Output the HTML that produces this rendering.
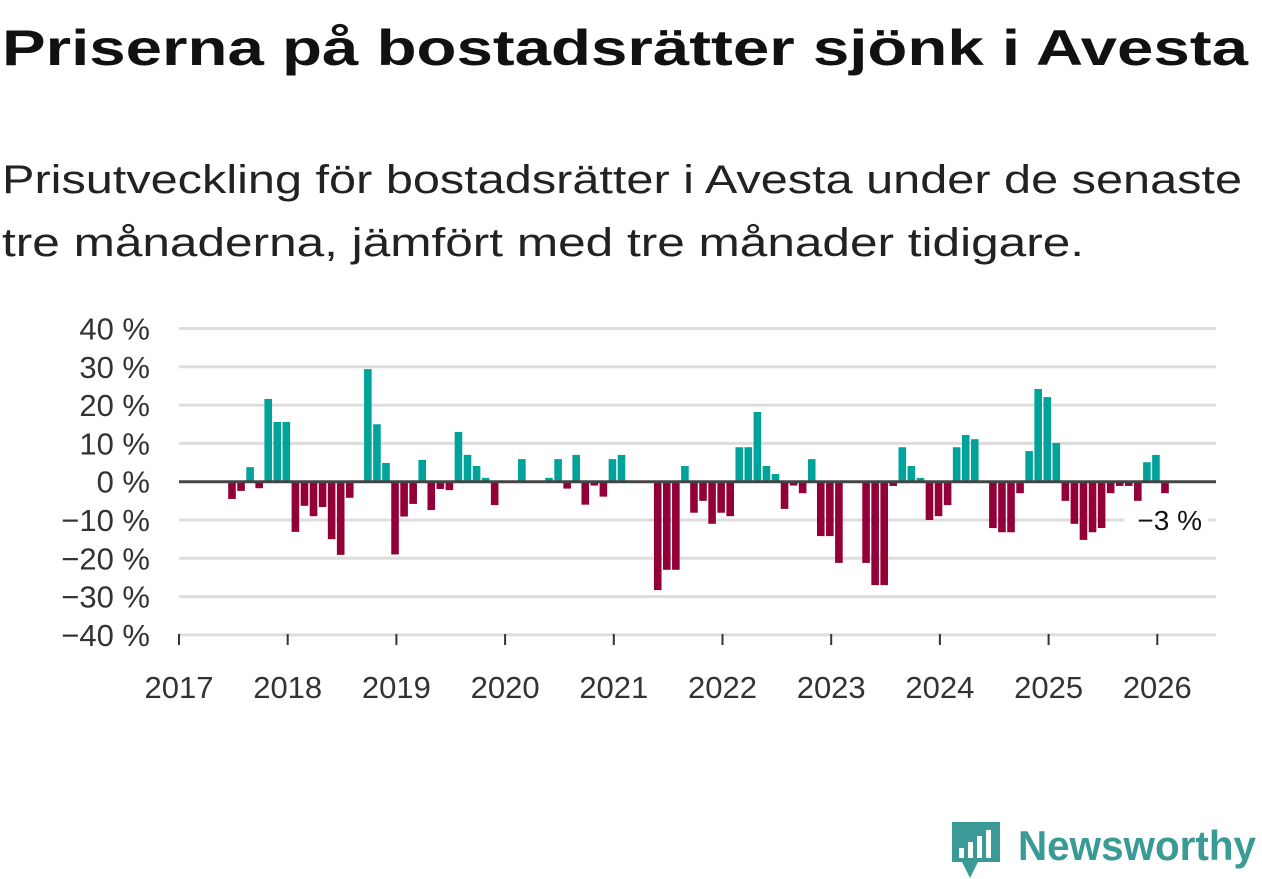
<!DOCTYPE html>
<html><head><meta charset="utf-8">
<style>
html,body{margin:0;padding:0;background:#fff;}
svg{display:block;font-family:"Liberation Sans",sans-serif;}
</style></head>
<body>
<svg id="chart" width="1262" height="879" viewBox="0 0 1262 879" xmlns="http://www.w3.org/2000/svg">
<text x="2" y="65" font-size="50" font-weight="bold" fill="#111" textLength="1246" lengthAdjust="spacingAndGlyphs">Priserna på bostadsrätter sjönk i Avesta</text>
<text x="2" y="193" font-size="40" fill="#222" textLength="1240" lengthAdjust="spacingAndGlyphs">Prisutveckling för bostadsrätter i Avesta under de senaste</text>
<text x="2" y="256" font-size="40" fill="#222" textLength="1082" lengthAdjust="spacingAndGlyphs">tre månaderna, jämfört med tre månader tidigare.</text>
<g id="grid"></g>
<g id="bars"></g>
<g id="axes"></g>
<g>
<path d="M952 822 h48 v40 h-22 l-8 16 l-8 -16 h-10 z" fill="#3a9a95"/>
<rect x="959" y="848" width="5" height="10" fill="#fff"/>
<rect x="968" y="842" width="5" height="16" fill="#fff"/>
<rect x="977" y="836" width="5" height="22" fill="#fff"/>
<rect x="986" y="830" width="5" height="28" fill="#fff"/>
<text x="1018" y="860" font-size="42" font-weight="bold" fill="#3a9a95" textLength="238" lengthAdjust="spacingAndGlyphs">Newsworthy</text>
</g>
</svg>
<script>
const yTicks = [40,30,20,10,0,-10,-20,-30,-40];
const yTickLabels = ["40 %","30 %","20 %","10 %","0 %","−10 %","−20 %","−30 %","−40 %"];
const years = ["2017","2018","2019","2020","2021","2022","2023","2024","2025","2026"];
// monthly values starting Jan 2017 (null = no bar)
const values = [
null,null,null,null,null,-4.5,-2.4,3.8,-1.7,21.6,15.6,15.6,
-13.1,-6.3,-9,-6.6,-15,-19.1,-4.2,null,29.4,15,4.9,-19,
-9.1,-5.8,5.7,-7.4,-1.9,-2.2,13,7,4.1,1,-6.1,null,
null,5.9,null,null,1,5.9,-1.8,7,-6,-1,-3.9,5.9,
7,null,null,null,-28.3,-23,-23,4.1,-8.1,-5,-11,-8.1,
-9,9,9,18.2,4.1,2,-7.1,-1,-3,5.9,-14.2,-14.2,
-21.2,null,null,-21.2,-27,-27,-1.1,9,4.1,1,-10,-9,
-6.1,9,12.2,11.1,null,-12.1,-13.2,-13.2,-3,8,24.2,22.1,
10.1,-5,-11,-15.2,-13.2,-12.1,-3,-1.1,-1.1,-5,5.1,7,
-3
];
const lastLabel = "−3 %";

const NS="http://www.w3.org/2000/svg";
const X0=179, YEARW=108.7, MW=YEARW/12;
const yS=v=>481.7-v*3.83;
const xMonth=i=>X0+(i+0.85)*MW;
const xYear=k=>X0+k*YEARW;
function mk(tag,attrs,parent){const e=document.createElementNS(NS,tag);for(const k in attrs)e.setAttribute(k,attrs[k]);parent.appendChild(e);return e;}
const grid=document.getElementById('grid'),bars=document.getElementById('bars'),axes=document.getElementById('axes');
yTicks.forEach((t,j)=>{
  if(t!==0){const l=mk('line',{x1:179,x2:1216,y1:yS(t),y2:yS(t),stroke:'#dddddd','stroke-width':3},grid);
  
  }
  const tx=mk('text',{x:150,y:yS(t)+11,'font-size':31,fill:'#333','text-anchor':'end'},axes);
  tx.textContent=yTickLabels[j];
  
  
});
years.forEach((y,k)=>{
  const x=xYear(k);
  const tk=mk('line',{x1:x,x2:x,y1:634,y2:645,stroke:'#333','stroke-width':2},axes);
  
  
  const tx=mk('text',{x:x,y:698,'font-size':31,fill:'#333','text-anchor':'middle'},axes);
  tx.textContent=y;
  
  
});
values.forEach((v,i)=>{
  if(v===null)return;
  const cx=xMonth(i),y0=yS(0),y1=yS(v);
  const r=mk('rect',{x:cx-3.8,width:7.6,y:Math.min(y0,y1),height:Math.abs(y1-y0),fill:v>=0?'#00a39a':'#930037'},bars);
  
  
});
const zl=mk('line',{x1:179,x2:1216,y1:yS(0),y2:yS(0),stroke:'#444','stroke-width':3},axes);


const li=values.length-1;
const bg=mk('rect',{x:1124,y:yS(values[li])+12,width:84,height:32,fill:'#fff'},axes);


const lv=mk('text',{x:1202,y:yS(values[li])+37,'font-size':28,fill:'#111','text-anchor':'end'},axes);
lv.textContent=lastLabel;


</script>
</body></html>
